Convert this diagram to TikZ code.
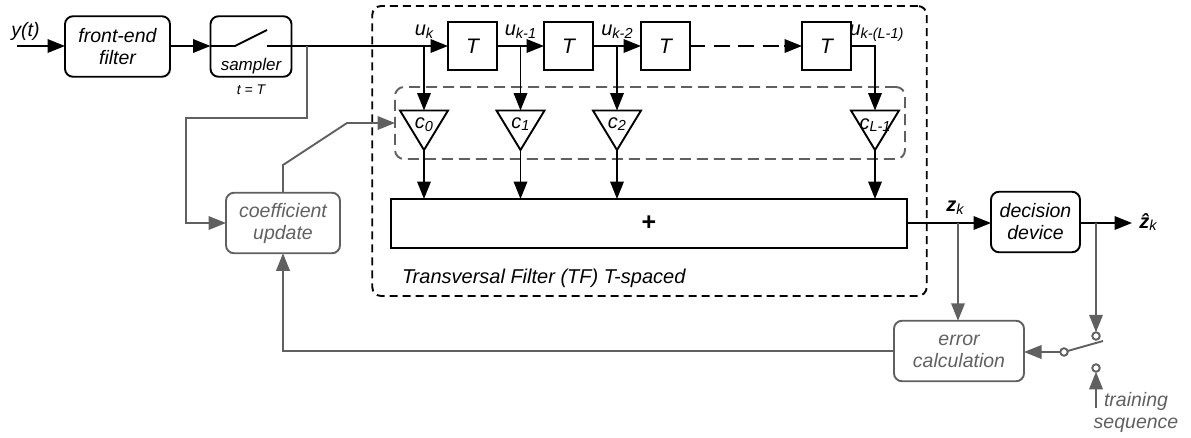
\documentclass[tikz,border=0pt]{standalone}
\usepackage{fontspec}
\setmainfont{Liberation Sans}
\usetikzlibrary{arrows.meta,shapes.geometric}
\definecolor{gr}{HTML}{606060}
\newcommand{\fsz}[1]{\fontsize{#1}{22}\selectfont}
\newcommand{\sbs}[1]{\raisebox{-2.7pt}{\fsz{14.5}#1}}
\tikzset{
  x=1pt,y=-1pt,
  every node/.style={font=\fsz{19.5}\itshape,inner sep=0pt,outer sep=0pt,align=center},
  blk/.style={draw=black,line width=1.9pt},
  gry/.style={draw=gr,line width=1.9pt},
  tipblk/.style={-{Triangle[length=17.5pt,width=13.5pt,fill=black]}},
  tipgry/.style={-{Triangle[length=17.5pt,width=13.5pt,fill=gr]}},
  rbox/.style={blk,rounded corners=8pt,minimum width=#1,minimum height=60.5pt},
  rgbox/.style={gry,rounded corners=8pt,minimum width=#1,minimum height=60.5pt,text=gr},
  tbox/.style={blk,minimum width=49pt,minimum height=48.5pt,font=\fsz{21}\itshape},
  tri/.style={blk,isosceles triangle,isosceles triangle apex angle=62.6,shape border rotate=-90,minimum height=39.5pt,anchor=lower side},
  lab/.style={font=\fsz{20}\itshape},
  contact/.style={circle,gry,fill=white,minimum size=7.5pt},
}
\begin{document}
\begin{tikzpicture}
\useasboundingbox (0,0) rectangle (1191,437);
% frames
\node[draw=black,line width=1.9pt,dash pattern=on 8pt off 5pt,rounded corners=9pt,minimum width=554.5pt,minimum height=290pt] (tf) at (649.5,151) {};
\node[draw=gr,line width=1.9pt,dash pattern=on 11pt off 6pt,rounded corners=9pt,minimum width=510pt,minimum height=72pt] (coefs) at (650,123) {};
% blocks
\node[rbox=105pt] (fe) at (117.5,46.5) {front-end\\filter};
\node[blk,rounded corners=8pt,minimum width=81pt,minimum height=60.5pt] (sa) at (251,46.5) {};
\node[font=\fsz{17}\itshape] (salab) at (251,66) {sampler};
\node[font=\fsz{14}\itshape] (st) at (251,90) {t = T};
\node[tbox] (t1) at (472.5,46) {T};
\node[tbox] (t2) at (568.5,46) {T};
\node[tbox] (t3) at (665.5,46) {T};
\node[tbox] (t4) at (826.5,46) {T};
\node[tri] (a0) at (424,110.5) {};
\node[tri] (a1) at (520.5,110.5) {};
\node[tri] (a2) at (617,110.5) {};
\node[tri] (a3) at (875,110.5) {};
\node[lab] (c0) at (424,125) {c\sbs{0}};
\node[lab] (c1) at (520.5,124) {c\sbs{1}};
\node[lab] (c2) at (617,124) {c\sbs{2}};
\node[lab] (c3) at (875,125) {c\sbs{L-1}};
\node[blk,minimum width=516pt,minimum height=49pt,font=\fsz{25}\bfseries] (sum) at (649,223.5) {+};
\node[rbox=89pt] (dd) at (1035.5,222) {decision\\device};
\node[rgbox=114pt] (cu) at (283,223) {coefficient\\update};
\node[rgbox=130pt] (ec) at (959,351) {error\\calculation};
% labels
\node[font=\fsz{19.5}\itshape] (yt) at (25.5,31) {y(t)};
\node[lab] (u0) at (424,32) {u\sbs{k}};
\node[lab] (u1) at (520.5,32) {u\sbs{k-1}};
\node[lab] (u2) at (617,32) {u\sbs{k-2}};
\node[lab] (u3) at (876.5,33) {u\sbs{k-(L-1)}};
\node[font=\fsz{20}\itshape\bfseries] (zk) at (955,208) {z\sbs{\mdseries k}};
\node[font=\fsz{20}\itshape\bfseries] (zh) at (1148,222) {\^z\sbs{\mdseries k}};
\node[font=\fsz{20}\itshape,anchor=west] (tfl) at (402,278) {Transversal Filter (TF) T-spaced};
\node[text=gr] (ts) at (1136,412) {training\\sequence};
% switch contacts
\node[contact] (k1) at (1096,336) {};
\node[contact] (k2) at (1096,368) {};
\node[contact] (k3) at (1064,352) {};
% junctions
\coordinate (yin) at (17,46);
\coordinate (s1) at (235,46);
\coordinate (s2) at (267,30);
\coordinate (s3) at (267,46);
\coordinate (br) at (307,46);
\coordinate (u0j) at (424,46);
\coordinate (u1j) at (520.5,46);
\coordinate (u2j) at (617,46);
\coordinate (dashend) at (779,46);
\coordinate (headstart) at (784,46);
\coordinate (zj) at (958,223);
\coordinate (hj) at (1096,223);
\coordinate (zout) at (1132,223);
\coordinate (swend) at (1103,341);
\coordinate (trs) at (1096,408);
% black connectors
\draw[blk,tipblk] (yin) -- (fe.west |- yin);
\draw[blk,tipblk] (fe.east |- yin) -- (sa.west |- yin);
\draw[blk] (sa.west |- yin) -- (s1) -- (s2);
\draw[blk,tipblk] (s3) -- (t1.west);
\draw[blk,tipblk] (t1.east) -- (t2.west);
\draw[blk,tipblk] (t2.east) -- (t3.west);
\draw[blk,dash pattern=on 16pt off 8.5pt,dash phase=1pt] (t3.east) -- (dashend);
\draw[blk,tipblk] (headstart) -- (t4.west);
\draw[blk,tipblk] (u0j) -- (a0.lower side);
\draw[blk,tipblk] (u1j) -- (a1.lower side);
\draw[blk,tipblk] (u2j) -- (a2.lower side);
\draw[blk,tipblk] (t4.east) -| (a3.lower side);
\draw[blk,tipblk] (a0.apex) -- (a0.apex |- sum.north);
\draw[blk,tipblk] (a1.apex) -- (a1.apex |- sum.north);
\draw[blk,tipblk] (a2.apex) -- (a2.apex |- sum.north);
\draw[blk,tipblk] (a3.apex) -- (a3.apex |- sum.north);
\draw[blk,tipblk] (sum.east |- zj) -- (dd.west |- zj);
\draw[blk,tipblk] (dd.east |- zj) -- (zout);
% grey connectors
\draw[gry,tipgry] (br) -- (307,118) -- (186,118) -- (186,223) -- (cu.west);
\draw[gry,tipgry] (cu.north) -- (283,165) -- (347,123) -- (coefs.west);
\draw[gry,tipgry] (zj) -- (ec.north -| zj);
\draw[gry,tipgry] (hj) -- (k1.north);
\draw[gry,tipgry] (k3.west) -- (ec.east |- k3);
\draw[gry] (k3) -- (swend);
\draw[gry,tipgry] (trs) -- (k2.south);
\draw[gry,tipgry] (ec.west) -| (cu.south);
\end{tikzpicture}
\end{document}
